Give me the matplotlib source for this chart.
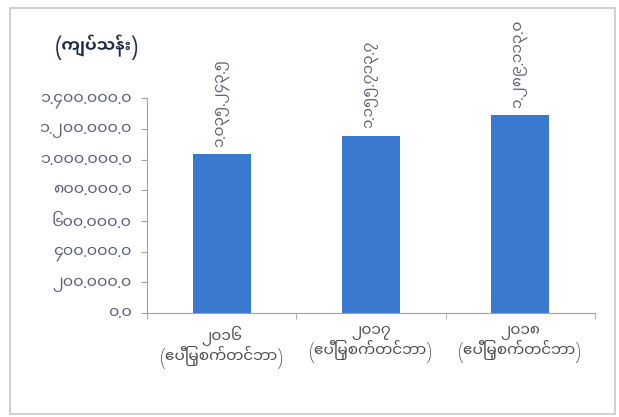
import matplotlib
matplotlib.use("Agg")
import matplotlib.pyplot as plt
import matplotlib.patches as mpatches
import numpy as np

plt.rcParams['font.family'] = ['Noto Sans Myanmar UI', 'Padauk', 'DejaVu Sans']

# data
years = ["၂၀၁၆", "၂၀၁၇", "၂၀၁၈"]
period = "(ဧပြီမှစက်တင်ဘာ)"
values = [1035243.5, 1155713.7, 1289113.0]
unit_label = "(ကျပ်သန်း)"

MM_DIGITS = str.maketrans("0123456789", "၀၁၂၃၄၅၆၇၈၉")


def mm_num(v):
    # thousands separator shown as a dot in the source
    return f"{v:,.1f}".replace(",", ".").translate(MM_DIGITS)


fig = plt.figure(figsize=(6.19, 4.17), dpi=100)
ax = fig.add_axes([0.2375, 0.249, 0.7235, 0.515])

x = np.arange(len(years))
bars = ax.bar(x, values, width=0.39, color="#3b78d0", zorder=2)

ax.set_xlim(-0.5, len(years) - 0.5)
ax.set_ylim(0, 1400000)

yt = np.arange(0, 1400001, 200000)
ax.set_yticks(yt)
ax.set_yticklabels([mm_num(v) for v in yt], fontsize=11.5, color="#5b5f73")
ax.tick_params(axis="y", direction="out", length=4, color="#a0a0a0", pad=7)

ax.set_xticks(x)
ax.set_xticklabels([f"{y}\n{period}" for y in years], fontsize=11,
                   color="#4a4a4a", linespacing=1.05)
ax.set_xticks(np.arange(-0.5, len(years)), minor=True)
ax.tick_params(axis="x", which="major", length=0, pad=9)
ax.tick_params(axis="x", which="minor", length=4, color="#a0a0a0")

for s in ["top", "right"]:
    ax.spines[s].set_visible(False)
for s in ["left", "bottom"]:
    ax.spines[s].set_color("#a0a0a0")

for b, v in zip(bars, values):
    ax.text(b.get_x() + b.get_width() / 2, v + 50000, mm_num(v),
            rotation=90, ha="center", va="bottom", fontsize=11,
            color="#5b5f73")

fig.text(0.088, 0.875, unit_label, fontsize=12, fontweight="bold",
         color="#1f2a4a")

# outer frame
fig.patches.append(mpatches.Rectangle((0.016, 0.008), 0.978, 0.972,
                                      transform=fig.transFigure, fill=False,
                                      edgecolor="#c8c8c8", linewidth=1.2))

fig.savefig("out.png", dpi=100)
